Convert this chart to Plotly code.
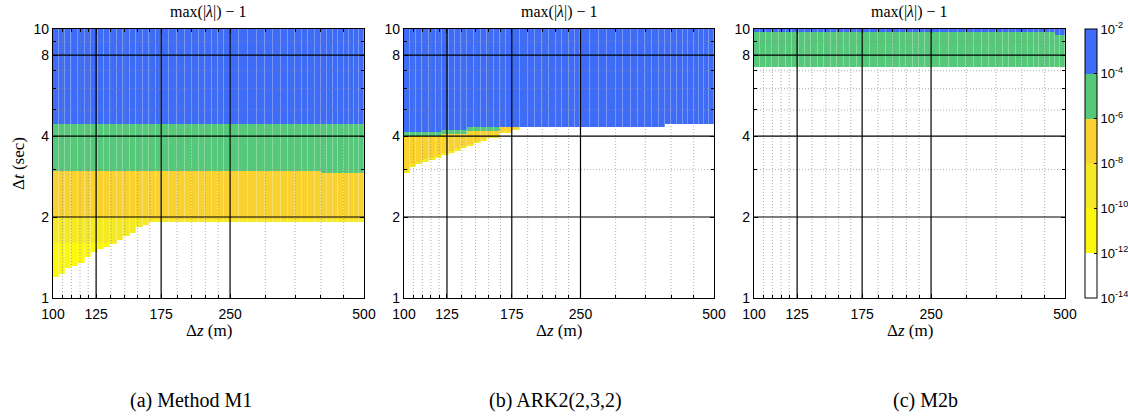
import math
import plotly.graph_objects as go

W, H = 1128, 416

# ---------------- data ----------------
# column edges of the (dz) data grid, metres
DZ_EDGES = [100, 103, 106.5, 110, 114, 118, 122, 126, 130, 134.5, 139, 144, 149, 154,
            159.5, 164.5, 170, 175, 182.5, 190, 197.5, 205, 212.5, 220, 227.5, 235,
            242.5, 250, 262.5, 275, 287.5, 300, 312.5, 325, 337.5, 350, 362.5, 375,
            387.5, 400, 412.5, 425, 437.5, 450, 462.5, 475, 487.5, 500]

# band values: log10(max|lambda| - 1) representative of each colour band
BAND_BLUE, BAND_GREEN, BAND_GOLD, BAND_YEL1, BAND_YEL2, BAND_WHITE = -3, -5, -7, -9, -11, -13

# Step boundaries (dt, sec) as functions of dz: list of dz starts and dt values
# (a) Method M1
M1_BLUE_DZ = [100];            M1_BLUE_DT = [4.43]
M1_GREEN_DZ = [100, 400];      M1_GREEN_DT = [2.97, 2.92]
M1_GOLD_DZ = [100, 164.5];     M1_GOLD_DT = [1.98, 1.965]
M1_YEL1_DZ = [100, 164.5];     M1_YEL1_DT = [1.60, 1.92]
M1_STAIR_DZ = [100, 103, 106.5, 110, 114, 118, 122, 126, 130, 134.5, 139, 144, 149, 154, 159.5, 164.5]
M1_STAIR_DT = [1.20, 1.228, 1.29, 1.318, 1.353, 1.417, 1.486, 1.52, 1.551, 1.587, 1.642, 1.70, 1.75, 1.83, 1.87, 1.92]

# (b) ARK2(2,3,2)
B_BLUE_DZ = [100, 122, 139, 387.5];        B_BLUE_DT = [4.14, 4.23, 4.33, 4.43]
B_GREEN_DZ = [100, 122, 139, 164.5];       B_GREEN_DT = [4.00, 4.07, 4.19, 4.33]
B_GOLD_DZ = [100, 103, 106.5, 110, 114, 118, 122, 126, 130, 134.5, 139, 144, 149, 154, 164.5, 175]
B_GOLD_DT = [3.02, 3.14, 3.21, 3.28, 3.33, 3.40, 3.47, 3.53, 3.60, 3.67, 3.75, 3.83, 3.90, 4.00, 4.14, 4.25]
B_YEL1_DZ = [100];                         B_YEL1_DT = [1.0]
B_STAIR_DZ = [100, 103, 106.5, 110, 114, 118, 122, 126, 130, 134.5, 139, 144, 149, 154, 164.5, 175, 182.5, 387.5]
B_STAIR_DT = [2.92, 3.07, 3.14, 3.21, 3.26, 3.32, 3.40, 3.46, 3.52, 3.60, 3.68, 3.76, 3.83, 3.94, 4.09, 4.21, 4.33, 4.43]

# (c) M2b
C_BLUE_DZ = [100, 475];   C_BLUE_DT = [9.77, 9.5]
C_GREEN_DZ = [100];       C_GREEN_DT = [7.2]
C_GOLD_DZ = [100];        C_GOLD_DT = [7.2]
C_YEL1_DZ = [100];        C_YEL1_DT = [1.0]
C_STAIR_DZ = [100];       C_STAIR_DT = [7.2]

# axes ticks
X_TICKS = [100, 125, 175, 250, 500]
X_MINOR = [105, 110, 115, 120, 135, 145, 155, 165, 190, 205, 220, 235, 300, 350, 400, 450]
Y_TICKS = [1, 2, 4, 8, 10]
Y_MINOR = [3, 5, 6, 7, 9]
CB_TICKS = [-2, -4, -6, -8, -10, -12, -14]

PANEL_TITLES = ["(a) Method M1", "(b) ARK2(2,3,2)", "(c) M2b"]

COLORS = {
    "white": "#ffffff",
    "yel2": "#fbf80e",
    "yel1": "#f4e922",
    "gold": "#f9d22f",
    "green": "#55c979",
    "blue": "#3e6cf6",
}

# ---------------- helpers ----------------
def step(dzs, dts, d):
    v = dts[0]
    for s, t in zip(dzs, dts):
        if d >= s:
            v = t
    return v


def build_panel(blue, green, gold, yel1, stair):
    centers = [math.sqrt(DZ_EDGES[i] * DZ_EDGES[i + 1]) for i in range(len(DZ_EDGES) - 1)]
    yvals = {Y_TICKS[0], Y_TICKS[-1]}
    for _, dts in (blue, green, gold, yel1, stair):
        for t in dts:
            if Y_TICKS[0] < t < Y_TICKS[-1]:
                yvals.add(t)
    y_edges = sorted(yvals)
    z = []
    for i in range(len(y_edges) - 1):
        ym = math.sqrt(y_edges[i] * y_edges[i + 1])
        row = []
        for c in centers:
            if ym <= step(*stair, c):
                row.append(BAND_WHITE)
            elif ym > step(*blue, c):
                row.append(BAND_BLUE)
            elif ym > step(*green, c):
                row.append(BAND_GREEN)
            elif ym > step(*gold, c):
                row.append(BAND_GOLD)
            elif ym > step(*yel1, c):
                row.append(BAND_YEL1)
            else:
                row.append(BAND_YEL2)
        z.append(row)
    return y_edges, z


panels = [
    ((M1_BLUE_DZ, M1_BLUE_DT), (M1_GREEN_DZ, M1_GREEN_DT), (M1_GOLD_DZ, M1_GOLD_DT),
     (M1_YEL1_DZ, M1_YEL1_DT), (M1_STAIR_DZ, M1_STAIR_DT)),
    ((B_BLUE_DZ, B_BLUE_DT), (B_GREEN_DZ, B_GREEN_DT), (B_GOLD_DZ, B_GOLD_DT),
     (B_YEL1_DZ, B_YEL1_DT), (B_STAIR_DZ, B_STAIR_DT)),
    ((C_BLUE_DZ, C_BLUE_DT), (C_GREEN_DZ, C_GREEN_DT), (C_GOLD_DZ, C_GOLD_DT),
     (C_YEL1_DZ, C_YEL1_DT), (C_STAIR_DZ, C_STAIR_DT)),
]

# discrete colour scale over [-14, -2]
order = ["white", "yel2", "yel1", "gold", "green", "blue"]
colorscale = []
for k, name in enumerate(order):
    colorscale.append([k / 6, COLORS[name]])
    colorscale.append([(k + 1) / 6, COLORS[name]])

# pixel layout
X_DOMAINS = [(53, 364), (404, 714), (754, 1065)]
PLOT_TOP, PLOT_BOTTOM = 29, 298

fig = go.Figure()

for k, panel in enumerate(panels):
    sfx = "" if k == 0 else str(k + 1)
    y_edges, z = build_panel(*panel)
    fig.add_trace(go.Heatmap(
        x=DZ_EDGES, y=y_edges, z=z, coloraxis="coloraxis",
        xaxis="x" + sfx, yaxis="y" + sfx, xgap=0.3, hoverinfo="skip"))

    # grid lines drawn above the map
    def lines(vals, vertical):
        xs, ys = [], []
        for v in vals:
            if vertical:
                xs += [v, v, None]
                ys += [Y_TICKS[0], Y_TICKS[-1], None]
            else:
                xs += [X_TICKS[0], X_TICKS[-1], None]
                ys += [v, v, None]
        return xs, ys

    xs1, ys1 = lines(X_MINOR, True)
    xs2, ys2 = lines(Y_MINOR, False)
    fig.add_trace(go.Scatter(x=xs1 + xs2, y=ys1 + ys2, mode="lines",
                             line=dict(color="rgba(140,140,140,0.7)", width=1, dash="1px,2px"),
                             xaxis="x" + sfx, yaxis="y" + sfx, hoverinfo="skip", showlegend=False))
    xs3, ys3 = lines(X_TICKS[1:-1], True)
    xs4, ys4 = lines(Y_TICKS[1:-1], False)
    fig.add_trace(go.Scatter(x=xs3 + xs4, y=ys3 + ys4, mode="lines",
                             line=dict(color="black", width=1.2),
                             xaxis="x" + sfx, yaxis="y" + sfx, hoverinfo="skip", showlegend=False))

tickfont = dict(family="Liberation Sans, Arial, sans-serif", size=14, color="black")
serif = "Liberation Serif, Times New Roman, serif"

layout = dict(
    width=W, height=H, margin=dict(l=0, r=0, t=0, b=0, autoexpand=False),
    paper_bgcolor="white", plot_bgcolor="white", showlegend=False,
    coloraxis=dict(
        colorscale=colorscale, cmin=-14, cmax=-2,
        colorbar=dict(
            x=1085 / W, xanchor="left", xref="paper", xpad=0, ypad=0,
            y=1 - (PLOT_TOP + PLOT_BOTTOM) / 2 / H, yanchor="middle",
            len=(PLOT_BOTTOM - PLOT_TOP) / H, lenmode="fraction",
            thickness=12, thicknessmode="pixels",
            outlinewidth=1, outlinecolor="black",
            tickvals=CB_TICKS, ticktext=["10<sup>%d</sup>" % v for v in CB_TICKS],
            ticks="inside", ticklen=3, tickcolor="black",
            tickfont=dict(family="Liberation Sans, Arial, sans-serif", size=13, color="black"),
        ),
    ),
)

ydom = [1 - PLOT_BOTTOM / H, 1 - PLOT_TOP / H]
annotations = []
for k, (x0, x1) in enumerate(X_DOMAINS):
    sfx = "" if k == 0 else str(k + 1)
    layout["xaxis" + sfx] = dict(
        type="log", domain=[x0 / W, x1 / W], anchor="y" + sfx,
        range=[math.log10(X_TICKS[0]), math.log10(X_TICKS[-1])],
        tickvals=X_TICKS, ticktext=[str(v) for v in X_TICKS],
        ticks="inside", ticklen=4, tickcolor="black", ticklabelstandoff=3,
        minor=dict(tickvals=X_MINOR, ticks="inside", ticklen=3, tickcolor="black", showgrid=False),
        showgrid=False, zeroline=False, showline=True, linecolor="black", linewidth=1.3,
        mirror="ticks", tickfont=tickfont, fixedrange=True, automargin=False,
    )
    layout["yaxis" + sfx] = dict(
        type="log", domain=ydom, anchor="x" + sfx,
        range=[math.log10(Y_TICKS[0]), math.log10(Y_TICKS[-1])],
        tickvals=Y_TICKS, ticktext=[str(v) for v in Y_TICKS],
        ticks="inside", ticklen=4, tickcolor="black",
        minor=dict(tickvals=Y_MINOR, ticks="inside", ticklen=3, tickcolor="black", showgrid=False),
        showgrid=False, zeroline=False, showline=True, linecolor="black", linewidth=1.3,
        mirror="ticks", tickfont=tickfont, fixedrange=True, automargin=False,
    )
    cx = (x0 + x1) / 2 / W
    annotations.append(dict(text="max(|<i>λ</i>|) − 1", x=cx, y=1 - 12 / H, xref="paper", yref="paper",
                            showarrow=False, xanchor="center", yanchor="middle",
                            font=dict(family=serif, size=16, color="black")))
    annotations.append(dict(text="Δ<i>z</i> (m)", x=cx, y=1 - 330 / H, xref="paper", yref="paper",
                            showarrow=False, xanchor="center", yanchor="middle",
                            font=dict(family=serif, size=17, color="black")))

CAPTION_X = [191, 555, 925]
for k, txt in enumerate(PANEL_TITLES):
    annotations.append(dict(text=txt, x=CAPTION_X[k] / W, y=1 - 400 / H,
                            xref="paper", yref="paper", showarrow=False,
                            xanchor="center", yanchor="middle",
                            font=dict(family=serif, size=20, color="black")))

annotations.append(dict(text="Δ<i>t</i> (sec)", x=19 / W, y=1 - 164 / H, xref="paper", yref="paper",
                        showarrow=False, xanchor="center", yanchor="middle", textangle=-90,
                        font=dict(family=serif, size=17, color="black")))
layout["annotations"] = annotations

fig.update_layout(**layout)
fig.write_html("out.html", config={"displayModeBar": False},
               post_script="document.body.style.margin='0';document.body.style.overflow='hidden';")
